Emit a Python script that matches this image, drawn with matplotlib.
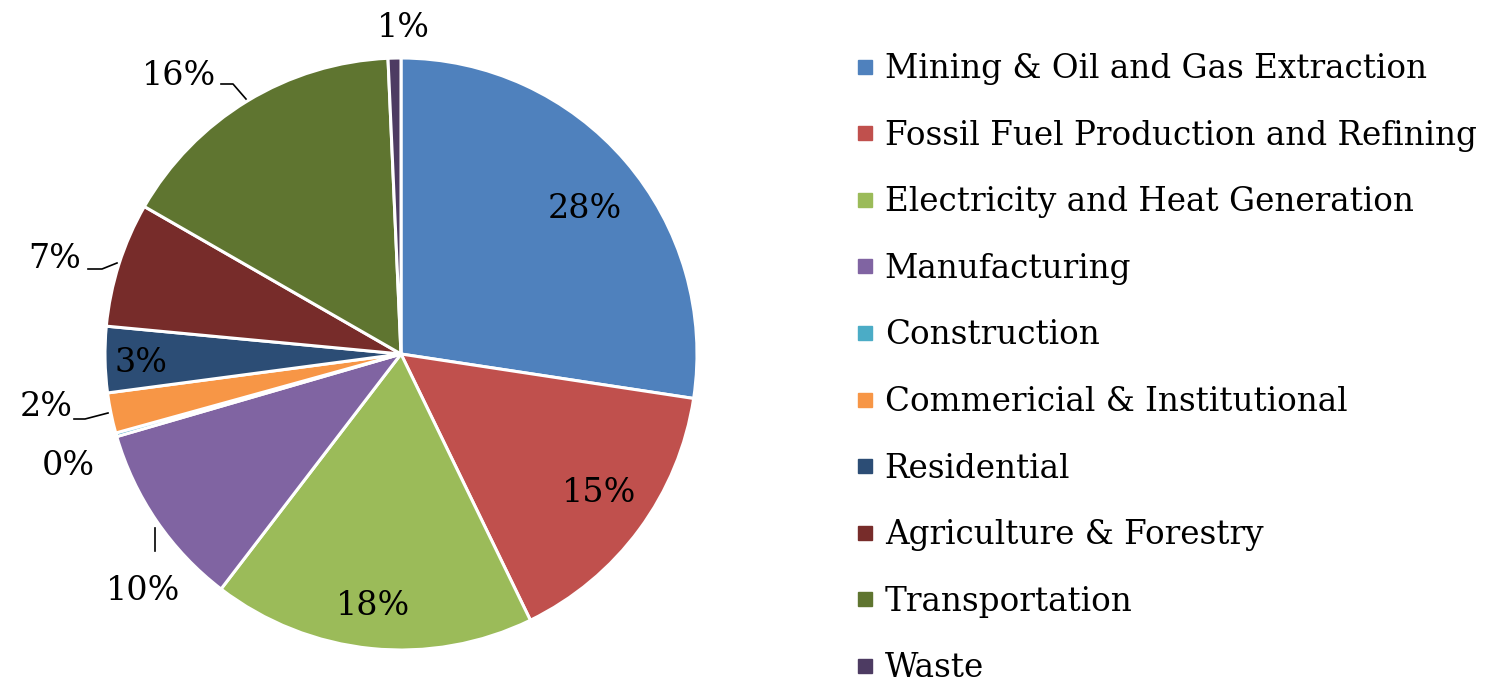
import numpy as np
import matplotlib.pyplot as plt
from matplotlib.lines import Line2D

# 数据（从图上估读，单位%）
sectors = ['Mining & Oil and Gas Extraction', 'Fossil Fuel Production and Refining',
           'Electricity and Heat Generation', 'Manufacturing', 'Construction',
           'Commericial & Institutional', 'Residential', 'Agriculture & Forestry',
           'Transportation', 'Waste']
shares = [27.4, 15.4, 17.6, 10.1, 0.2, 2.2, 3.6, 6.8, 16.0, 0.7]
labels = ['28%', '15%', '18%', '10%', '0%', '2%', '3%', '7%', '16%', '1%']
colors = ['#4F81BD', '#C0504D', '#9BBB59', '#8064A2', '#4BACC6',
          '#F79646', '#2C4D75', '#772C2A', '#5F7530', '#4D3B62']

plt.rcParams['font.family'] = ['DejaVu Serif']

fig = plt.figure(figsize=(14.89, 6.94), dpi=100)
W, H = 1489, 694
cx, cy, r = 401, 354, 296
ax = fig.add_axes([(cx - r) / W, (H - cy - r) / H, 2 * r / W, 2 * r / H])
wedges, _ = ax.pie(shares, colors=colors, startangle=90, counterclock=False,
                   radius=1, wedgeprops=dict(edgecolor='white', linewidth=2.2))
ax.set_xlim(-1, 1)
ax.set_ylim(-1, 1)
ax.set_aspect('equal')
ax.axis('off')

# 标签位置（相对半径坐标）
label_pos = {
    '28%': (0.62, 0.49), '15%': (0.67, -0.47), '18%': (-0.095, -0.85),
    '10%': (-0.87, -0.80), '0%': (-1.125, -0.38), '2%': (-1.20, -0.18),
    '3%': (-0.88, -0.03), '7%': (-1.17, 0.32), '16%': (-0.75, 0.94), '1%': (0.007, 1.10),
}
for lab in labels:
    x, y = label_pos[lab]
    ax.text(x, y, lab, ha='center', va='center', fontsize=24, clip_on=False)


# 引导线（像素坐标转相对坐标）
def px(x, y):
    return (x - cx) / r, (cy - y) / r


leaders = [
    [(221, 84), (233, 84), (246, 99)],
    [(88, 269), (102, 269), (117, 263)],
    [(74, 419), (85, 419), (108, 413)],
    [(155, 528), (155, 551)],
]
for pts in leaders:
    xy = np.array([px(*p) for p in pts])
    ax.plot(xy[:, 0], xy[:, 1], color='black', lw=1.2, clip_on=False)

# 图例（行距略收，让最后一行 Waste 完整显示）
handles = [Line2D([0], [0], marker='s', ls='', markersize=9.5, color=c) for c in colors]
fig.legend(handles, sectors, loc='upper left', bbox_to_anchor=(857 / W, 1 - 53 / H),
           frameon=False, fontsize=23.5, handlelength=0.5, handletextpad=0.35,
           labelspacing=1.06, borderaxespad=0, borderpad=0)

fig.savefig('out.png', dpi=100)
